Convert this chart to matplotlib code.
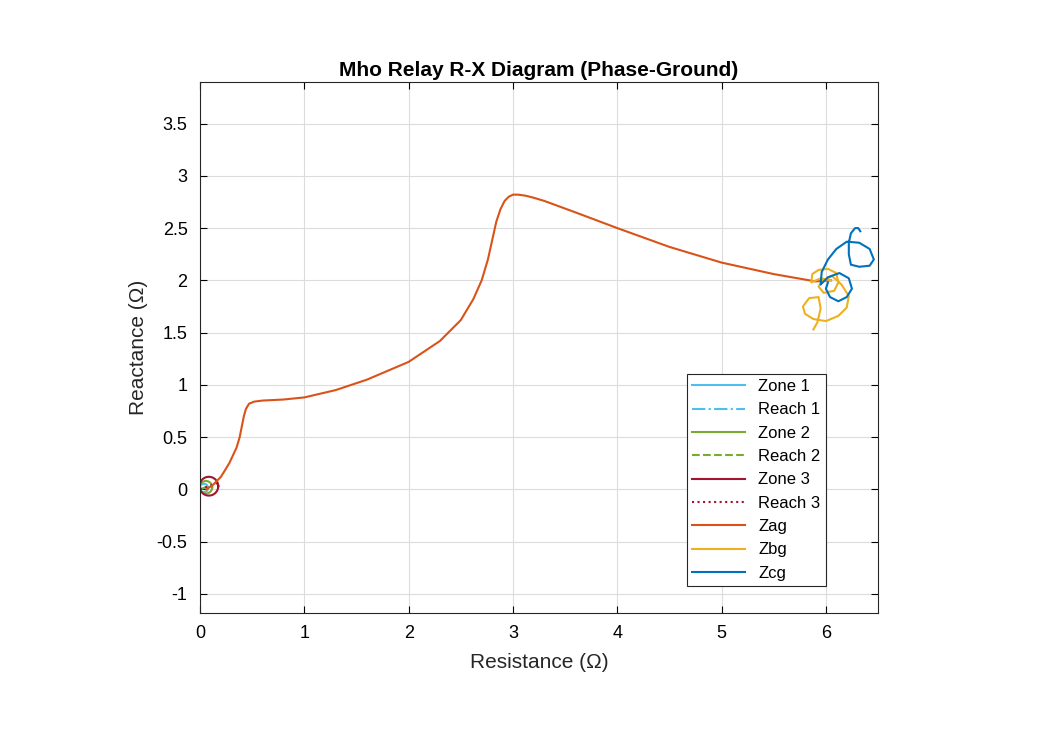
import numpy as np
import matplotlib.pyplot as plt

plt.rcParams['font.family'] = ['Arial', 'Liberation Sans', 'DejaVu Sans']

# Impedance trajectories (R, X in ohm)
zag_r = [0.06, 0.12, 0.2, 0.28, 0.35, 0.38, 0.4, 0.42, 0.44, 0.47, 0.52, 0.6, 0.8, 1.0, 1.3, 1.6, 2.0, 2.3,
         2.5, 2.62, 2.7, 2.76, 2.8, 2.84, 2.88, 2.92, 2.96, 3.0, 3.05, 3.12, 3.2, 3.3, 3.6, 4.0, 4.5, 5.0, 5.5, 5.9, 6.05]
zag_x = [0.0, 0.04, 0.12, 0.25, 0.4, 0.5, 0.6, 0.7, 0.77, 0.82, 0.84, 0.85, 0.86, 0.88, 0.95, 1.05, 1.22, 1.42,
         1.62, 1.82, 2.0, 2.2, 2.38, 2.56, 2.68, 2.76, 2.8, 2.82, 2.82, 2.81, 2.79, 2.76, 2.65, 2.5, 2.32, 2.17, 2.06, 1.99, 2.0]

zbg_r = [6.05, 5.95, 5.86, 5.87, 5.93, 6.02, 6.1, 6.12, 6.08, 5.98, 5.93, 5.97, 6.06, 6.15, 6.22,
         6.2, 6.12, 6.0, 5.88, 5.8, 5.78, 5.84, 5.93, 5.95, 5.92, 5.88]
zbg_x = [2.0, 2.02, 1.98, 2.06, 2.1, 2.11, 2.07, 1.98, 1.9, 1.88, 1.94, 2.0, 2.04, 1.96, 1.85,
         1.74, 1.66, 1.61, 1.63, 1.68, 1.75, 1.83, 1.84, 1.73, 1.6, 1.53]

zcg_r = [6.02, 6.0, 6.04, 6.12, 6.2, 6.25, 6.22, 6.13, 6.02, 5.95, 5.96, 6.02, 6.1, 6.2, 6.32,
         6.42, 6.46, 6.42, 6.32, 6.24, 6.22, 6.22, 6.24, 6.28, 6.31, 6.33]
zcg_x = [1.98, 1.92, 1.84, 1.8, 1.84, 1.92, 2.02, 2.07, 2.03, 1.96, 2.08, 2.2, 2.3, 2.37, 2.36,
         2.3, 2.2, 2.14, 2.13, 2.15, 2.25, 2.36, 2.45, 2.5, 2.5, 2.47]

# Mho circles (reach along line angle)
reach = [0.08, 0.12, 0.18]
line_angle = np.deg2rad(20)
zone_colors = ['#4DBEEE', '#77AC30', '#A2142F']
reach_styles = ['-.', '--', ':']

fig = plt.figure(figsize=(10.49, 7.5), dpi=100)
ax = fig.add_axes([0.1907, 0.183, 0.6463, 0.708])

th = np.linspace(0, 2 * np.pi, 200)
for i, z in enumerate(reach):
    cr = z / 2 * np.cos(line_angle)
    cx = z / 2 * np.sin(line_angle)
    ax.plot(cr + z / 2 * np.cos(th), cx + z / 2 * np.sin(th), color=zone_colors[i], lw=1.5,
            label=f'Zone {i + 1}')
    ax.plot([0, z * np.cos(line_angle)], [0, z * np.sin(line_angle)], color=zone_colors[i],
            ls=reach_styles[i], lw=1.5, label=f'Reach {i + 1}')

ax.plot(zag_r, zag_x, color='#D95319', lw=1.5, label='Zag')
ax.plot(zbg_r, zbg_x, color='#EDB120', lw=1.5, label='Zbg')
ax.plot(zcg_r, zcg_x, color='#0072BD', lw=1.5, label='Zcg')

ax.set_xlim(0, 6.5)
ax.set_ylim(-1.18, 3.9)
ax.set_xticks(np.arange(0, 7, 1))
ax.set_yticks(np.arange(-1, 4, 0.5))
ax.set_yticklabels(['-1', '-0.5', '0', '0.5', '1', '1.5', '2', '2.5', '3', '3.5'])
ax.grid(True, color='#dcdcdc', lw=0.8)
ax.tick_params(direction='in', labelsize=13, top=True, right=True, length=5, pad=9)
for s in ax.spines.values():
    s.set_color('#262626')
ax.set_xlabel('Resistance (\u03a9)', fontsize=15, color='#262626', labelpad=8)
ax.set_ylabel('Reactance (\u03a9)', fontsize=15, color='#262626', labelpad=6)
ax.set_title('Mho Relay R-X Diagram (Phase-Ground)', fontsize=15, fontweight='bold', pad=4)
leg = ax.legend(loc='lower right', bbox_to_anchor=(0.935, 0.035), fontsize=12, fancybox=False,
                edgecolor='#262626', framealpha=1, handlelength=3.2, borderpad=0.3, labelspacing=0.5)
leg.get_frame().set_linewidth(0.8)

fig.savefig('out.png', dpi=100)
